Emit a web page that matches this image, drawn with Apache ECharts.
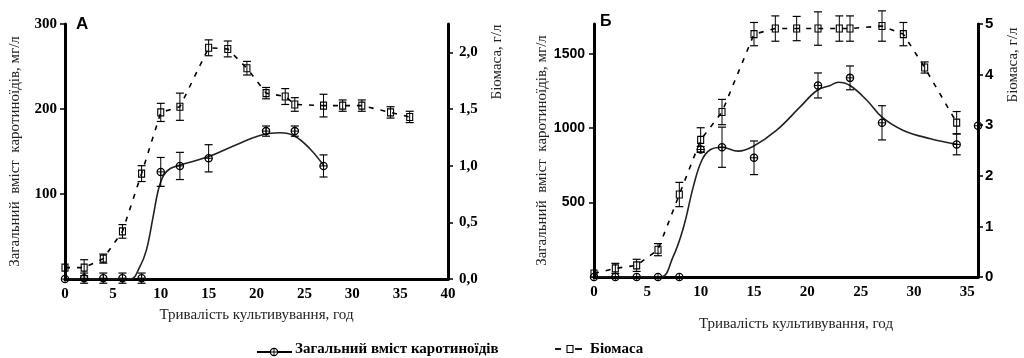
<!DOCTYPE html>
<html>
<head>
<meta charset="utf-8">
<script src="https://cdn.jsdelivr.net/npm/echarts@6/dist/echarts.min.js"></script>
<style>
  html, body { margin: 0; padding: 0; background: #fff; }
  #chart { width: 1024px; height: 358px; }
</style>
</head>
<body>
<div id="chart"></div>
<script>
// ---- Панель А ----
const carTimeA = [0, 2, 4, 6, 8, 10, 12, 15, 21, 24, 27];
const carA = [0, 1, 1, 1, 1, 126, 133, 142, 174, 174, 133];
const carErrA = [0, 6, 6, 6, 6, 17, 16, 16, 6, 6, 13];
const bioTimeA = [0, 2, 4, 6, 8, 10, 12, 15, 17, 19, 21, 23, 24, 27, 29, 31, 34, 36];
const bioA = [0.1, 0.1, 0.18, 0.42, 0.93, 1.47, 1.52, 2.04, 2.03, 1.86, 1.64, 1.61, 1.54, 1.53, 1.53, 1.53, 1.47, 1.43];
const bioErrA = [0, 0.07, 0.04, 0.06, 0.07, 0.08, 0.12, 0.07, 0.07, 0.06, 0.05, 0.07, 0.06, 0.1, 0.05, 0.05, 0.05, 0.05];
// fitted curve
const curveTimeA = [0, 6.8, 7.8, 8.5, 9.2, 9.75, 10.3, 11, 12, 15, 17.9, 20.7, 22.45, 24, 25.6, 27.05];
const curveA = [0, 0, 14, 34, 73, 105, 122, 130, 134, 144, 158, 170, 172, 168, 153, 133];

// ---- Панель Б ----
const carTimeB = [0, 2, 4, 6, 8, 10, 12, 15, 21, 24, 27, 34, 36];
const carB = [0, 0, 0, 0, 0, 857, 872, 801, 1287, 1338, 1036, 891, 1016];
const carErrB = [0, 0, 0, 0, 0, 20, 135, 113, 84, 80, 115, 70, 0];
const bioTimeB = [0, 2, 4, 6, 8, 10, 12, 15, 17, 19, 21, 23, 24, 27, 29, 31, 34];
const bioB = [0.07, 0.17, 0.23, 0.54, 1.63, 2.71, 3.26, 4.8, 4.91, 4.91, 4.91, 4.91, 4.91, 4.96, 4.8, 4.14, 3.05];
const bioErrB = [0, 0.1, 0.12, 0.12, 0.24, 0.24, 0.25, 0.23, 0.25, 0.24, 0.33, 0.25, 0.25, 0.3, 0.23, 0.11, 0.22];
const curveTimeB = [0, 6.2, 7.4, 8.4, 9.3, 10.1, 10.9, 12, 13.5, 14.9, 17.1, 19.3, 20.9, 22.15, 22.9, 24, 25.6, 27, 29, 31.55, 34.06];
const curveB = [0, 0, 134, 336, 604, 783, 855, 872, 846, 877, 985, 1141, 1253, 1287, 1309, 1287, 1186, 1074, 985, 929, 891];

// ticks
const xTicksA = [0, 5, 10, 15, 20, 25, 30, 35, 40];
const yTicksA = [100, 200, 300];
const y2TicksA = [0, 0.5, 1, 1.5, 2];
const xTicksB = [0, 5, 10, 15, 20, 25, 30, 35];
const yTicksB = [500, 1000, 1500];
const y2TicksB = [0, 1, 2, 3, 4, 5];

const serif = 'Liberation Serif';
const sans = 'Liberation Sans';

function zip(a, b, c) {
  return a.map((v, i) => c ? [v, b[i], c[i]] : [v, b[i]]);
}

function errBar(p, top, bot, list) {
  list.push({ type: 'line', shape: { x1: p[0], y1: top[1], x2: p[0], y2: bot[1] }, style: { stroke: '#000', lineWidth: 1 } });
  list.push({ type: 'line', shape: { x1: p[0] - 4, y1: top[1], x2: p[0] + 4, y2: top[1] }, style: { stroke: '#000', lineWidth: 1.2 } });
  list.push({ type: 'line', shape: { x1: p[0] - 4, y1: bot[1], x2: p[0] + 4, y2: bot[1] }, style: { stroke: '#000', lineWidth: 1.2 } });
}

function circleItem(params, api) {
  const x = api.value(0), y = api.value(1), e = api.value(2);
  const p = api.coord([x, y]);
  const children = [];
  if (e > 0) errBar(p, api.coord([x, y + e]), api.coord([x, y - e]), children);
  children.push({ type: 'circle', shape: { cx: p[0], cy: p[1], r: 3.6 }, style: { fill: 'rgba(255,255,255,0)', stroke: '#000', lineWidth: 1.3 } });
  children.push({ type: 'line', shape: { x1: p[0] - 3.6, y1: p[1], x2: p[0] + 3.6, y2: p[1] }, style: { stroke: '#000', lineWidth: 1 } });
  children.push({ type: 'line', shape: { x1: p[0], y1: p[1] - 3.6, x2: p[0], y2: p[1] + 3.6 }, style: { stroke: '#000', lineWidth: 1 } });
  return { type: 'group', children };
}

function squareItem(params, api) {
  const x = api.value(0), y = api.value(1), e = api.value(2);
  const p = api.coord([x, y]);
  const children = [];
  if (e > 0) errBar(p, api.coord([x, y + e]), api.coord([x, y - e]), children);
  children.push({ type: 'rect', shape: { x: p[0] - 3, y: p[1] - 3.5, width: 6, height: 7 }, style: { fill: 'rgba(255,255,255,0)', stroke: '#000', lineWidth: 1.1 } });
  return { type: 'group', children };
}

const axisLine = { show: true, lineStyle: { color: '#000', width: 3 } };
const tick = { show: true, length: 5, lineStyle: { color: '#000', width: 1.5 } };

function xAxis(grid, max, ticks, nameGap, padLeft) {
  return {
    gridIndex: grid, type: 'value', min: 0, max: max, interval: 5,
    axisLine: axisLine, axisTick: { show: false }, splitLine: { show: false },
    axisLabel: {
      customValues: ticks, margin: 8, color: '#000', fontFamily: serif, fontWeight: 'bold', fontSize: 15,
      formatter: v => ticks.indexOf(v) >= 0 ? String(v) : ''
    },
    name: 'Тривалість культивування, год', nameLocation: 'middle', nameGap: nameGap,
    nameTextStyle: { fontFamily: serif, fontSize: 15, color: '#222', padding: [0, 0, 0, padLeft] }
  };
}

const chart = echarts.init(document.getElementById('chart'));

const option = {
  backgroundColor: '#fff',
  animation: false,
  grid: [
    { left: 65, top: 24, width: 383, height: 255 },
    { left: 594, top: 24, width: 384, height: 253 }
  ],
  xAxis: [
    xAxis(0, 40, xTicksA, 29, 0),
    xAxis(1, 36, xTicksB, 40, 20)
  ],
  yAxis: [
    {
      gridIndex: 0, type: 'value', min: 0, max: 300, interval: 100, position: 'left',
      axisLine: axisLine, axisTick: Object.assign({ customValues: yTicksA }, tick), splitLine: { show: false },
      axisLabel: { customValues: yTicksA, margin: 8, color: '#000', fontFamily: serif, fontWeight: 'bold', fontSize: 15,
        formatter: v => yTicksA.indexOf(v) >= 0 ? String(v) : '' },
      name: 'Загальний  вміст  каротиноїдів, мг/л', nameLocation: 'middle', nameGap: 42,
      nameTextStyle: { fontFamily: serif, fontSize: 15, color: '#222' }
    },
    {
      gridIndex: 0, type: 'value', min: 0, max: 2.25, interval: 0.5, position: 'right',
      axisLine: axisLine, axisTick: Object.assign({ customValues: y2TicksA }, tick), splitLine: { show: false },
      axisLabel: { customValues: y2TicksA, margin: 11, color: '#000', fontFamily: serif, fontWeight: 'bold', fontSize: 15,
        formatter: v => v <= 2 ? v.toFixed(1).replace('.', ',') : '' }
    },
    {
      gridIndex: 1, type: 'value', min: 0, max: 1700, interval: 500, position: 'left',
      axisLine: axisLine, axisTick: Object.assign({ customValues: yTicksB }, tick), splitLine: { show: false },
      axisLabel: { customValues: yTicksB, margin: 9, color: '#000', fontFamily: sans, fontWeight: 'bold', fontSize: 14,
        formatter: v => yTicksB.indexOf(v) >= 0 ? String(v) : '' },
      name: 'Загальний  вміст  каротиноїдів, мг/л', nameLocation: 'middle', nameGap: 44,
      nameTextStyle: { fontFamily: serif, fontSize: 15, color: '#222' }
    },
    {
      gridIndex: 1, type: 'value', min: 0, max: 5, interval: 1, position: 'right',
      axisLine: axisLine, axisTick: Object.assign({ customValues: y2TicksB }, tick), splitLine: { show: false },
      axisLabel: { customValues: y2TicksB, margin: 7, color: '#000', fontFamily: sans, fontWeight: 'bold', fontSize: 15 }
    }
  ],
  series: [
    { type: 'line', xAxisIndex: 0, yAxisIndex: 0, data: zip(curveTimeA, curveA), smooth: 0.4, showSymbol: false,
      lineStyle: { color: '#222', width: 1.6 }, z: 3 },
    { type: 'line', xAxisIndex: 0, yAxisIndex: 1, data: zip(bioTimeA, bioA), showSymbol: false,
      lineStyle: { color: '#000', width: 1.6, type: [5, 7] }, z: 3 },
    { type: 'custom', xAxisIndex: 0, yAxisIndex: 1, data: zip(bioTimeA, bioA, bioErrA), renderItem: squareItem,
      encode: { x: 0, y: 1 }, z: 4 },
    { type: 'custom', xAxisIndex: 0, yAxisIndex: 0, data: zip(carTimeA, carA, carErrA), renderItem: circleItem,
      encode: { x: 0, y: 1 }, z: 4 },

    { type: 'line', xAxisIndex: 1, yAxisIndex: 2, data: zip(curveTimeB, curveB), smooth: 0.4, showSymbol: false,
      lineStyle: { color: '#222', width: 1.6 }, z: 3 },
    { type: 'line', xAxisIndex: 1, yAxisIndex: 3, data: zip(bioTimeB, bioB), showSymbol: false,
      lineStyle: { color: '#000', width: 1.6, type: [5, 7] }, z: 3 },
    { type: 'custom', xAxisIndex: 1, yAxisIndex: 3, data: zip(bioTimeB, bioB, bioErrB), renderItem: squareItem,
      encode: { x: 0, y: 1 }, z: 4 },
    { type: 'custom', xAxisIndex: 1, yAxisIndex: 2, data: zip(carTimeB, carB, carErrB), renderItem: circleItem,
      encode: { x: 0, y: 1 }, z: 4 }
  ],
  graphic: [
    { type: 'text', x: 76, y: 24, style: { text: 'А', font: 'bold 17px ' + sans, fill: '#000', textVerticalAlign: 'middle' } },
    { type: 'text', x: 600, y: 22, style: { text: 'Б', font: 'bold 16px ' + sans, fill: '#000', textVerticalAlign: 'middle' } },
    { type: 'text', x: 497, y: 62, rotation: Math.PI / 2,
      style: { text: 'Біомаса, г/л', font: '15px ' + serif, fill: '#222', textAlign: 'center', textVerticalAlign: 'middle' } },
    { type: 'text', x: 1013, y: 65, rotation: Math.PI / 2,
      style: { text: 'Біомаса, г/л', font: '15px ' + serif, fill: '#222', textAlign: 'center', textVerticalAlign: 'middle' } },
    // legend
    { type: 'line', shape: { x1: 257, y1: 352, x2: 292, y2: 352 }, style: { stroke: '#000', lineWidth: 1.8 } },
    { type: 'circle', shape: { cx: 274, cy: 352, r: 3.6 }, style: { fill: '#fff', stroke: '#000', lineWidth: 1.2 } },
    { type: 'line', shape: { x1: 270.4, y1: 352, x2: 277.6, y2: 352 }, style: { stroke: '#000', lineWidth: 1 } },
    { type: 'line', shape: { x1: 274, y1: 348.4, x2: 274, y2: 355.6 }, style: { stroke: '#000', lineWidth: 1 } },
    { type: 'text', x: 295, y: 349, style: { text: 'Загальний вміст каротиноїдів', font: 'bold 15px ' + serif, fill: '#000', textVerticalAlign: 'middle' } },
    { type: 'line', shape: { x1: 555, y1: 349, x2: 561, y2: 349 }, style: { stroke: '#000', lineWidth: 1.8 } },
    { type: 'rect', shape: { x: 567, y: 345.5, width: 6, height: 7 }, style: { fill: '#fff', stroke: '#000', lineWidth: 1.1 } },
    { type: 'line', shape: { x1: 575, y1: 349, x2: 582, y2: 349 }, style: { stroke: '#000', lineWidth: 1.8 } },
    { type: 'text', x: 590, y: 349, style: { text: 'Біомаса', font: 'bold 15px ' + serif, fill: '#000', textVerticalAlign: 'middle' } }
  ]
};

chart.setOption(option);
</script>
</body>
</html>
